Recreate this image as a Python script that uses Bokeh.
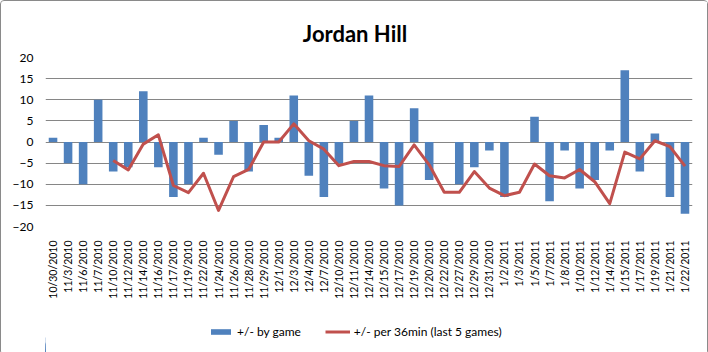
import math
from bokeh.plotting import figure
from bokeh.layouts import column
from bokeh.models import (FactorRange, Range1d, FixedTicker, Legend, LegendItem, Label,
                          ColumnDataSource)
from bokeh.embed import file_html
from bokeh.resources import INLINE

dates = ["10/30/2010", "11/3/2010", "11/6/2010", "11/7/2010", "11/10/2010", "11/12/2010",
         "11/14/2010", "11/16/2010", "11/17/2010", "11/19/2010", "11/22/2010", "11/24/2010",
         "11/26/2010", "11/28/2010", "11/29/2010", "12/1/2010", "12/3/2010", "12/4/2010",
         "12/7/2010", "12/10/2010", "12/11/2010", "12/14/2010", "12/15/2010", "12/17/2010",
         "12/19/2010", "12/20/2010", "12/22/2010", "12/27/2010", "12/29/2010", "12/31/2010",
         "1/2/2011", "1/3/2011", "1/5/2011", "1/7/2011", "1/8/2011", "1/10/2011",
         "1/12/2011", "1/14/2011", "1/15/2011", "1/17/2011", "1/19/2011", "1/21/2011",
         "1/22/2011"]

by_game = [1, -5, -10, 10, -7, -6, 12, -6, -13, -10, 1, -3,
           5, -7, 4, 1, 11, -8, -13, -5, 5, 11, -11, -15,
           8, -9, 0, -10, -6, -2, -13, 0, 6, -14, -2, -11,
           -9, -2, 17, -7, 2, -13, -17]

line_dates = dates[4:]
per36_last5 = [-4.4, -6.6, -0.5, 1.7, -10.3, -12.0, -7.4, -16.2, -8.2, -6.5,
               0.0, 0.0, 4.3, 0.3, -1.7, -5.6, -4.6, -4.6, -5.6, -5.8,
               -0.7, -5.4, -11.9, -11.9, -7.0, -10.9, -12.7, -11.9, -5.2, -8.0,
               -8.5, -6.5, -9.4, -14.6, -2.4, -4.0, 0.3, -1.1, -5.7]

y_ticks = [-20, -15, -10, -5, 0, 5, 10, 15, 20]

title_text = "Jordan Hill"
series_names = ["+/- by game", "+/- per 36min (last 5 games)"]
BAR_COLOR = "#4F81BD"
LINE_COLOR = "#C0504D"
FONT = "Lato"

FRAME_W = 647
LEFT, RIGHT = 44, 15

# ---- title strip ----
p0 = figure(frame_width=FRAME_W, frame_height=48, output_backend="svg", toolbar_location=None,
            x_axis_location=None, y_axis_location=None,
            x_range=Range1d(LEFT, LEFT + FRAME_W), y_range=Range1d(0, 48),
            min_border_left=LEFT, min_border_right=RIGHT, min_border_top=0, min_border_bottom=0)
p0.outline_line_color = None
p0.grid.grid_line_color = None
p0.background_fill_color = "white"
p0.border_fill_color = "white"
p0.add_layout(Label(x=353.5, y=16, text=title_text, text_align="center",
                    text_baseline="alphabetic", text_font=FONT, text_font_size="22px",
                    text_font_style="bold", text_color="black"))

# ---- main chart ----
p = figure(frame_width=FRAME_W, frame_height=169, output_backend="svg", toolbar_location=None,
           x_range=FactorRange(factors=dates, range_padding=0),
           y_range=Range1d(-20, 20),
           min_border_left=LEFT, min_border_right=RIGHT, min_border_top=8, min_border_bottom=0)
p.outline_line_color = None
p.background_fill_color = "white"
p.border_fill_color = "white"

src_bar = ColumnDataSource(dict(x=dates, y=by_game))
p.vbar(x="x", top="y", bottom=0, width=0.57, source=src_bar,
       fill_color=BAR_COLOR, line_color=None)
src_line = ColumnDataSource(dict(x=line_dates, y=per36_last5))
p.line(x="x", y="y", source=src_line, line_color=LINE_COLOR, line_width=3, line_join="round")

p.xgrid.grid_line_color = None
p.ygrid.grid_line_color = "#868686"
p.ygrid.grid_line_width = 1

p.yaxis.ticker = FixedTicker(ticks=y_ticks)
p.yaxis.axis_line_color = None
p.yaxis.major_tick_line_color = None
p.yaxis.minor_tick_line_color = None
p.yaxis.major_tick_out = 0
p.yaxis.major_tick_in = 0
p.yaxis.major_label_standoff = 12
p.yaxis.major_label_text_font = FONT
p.yaxis.major_label_text_font_size = "12px"
p.yaxis.major_label_text_color = "black"

p.xaxis.axis_line_color = None
p.xaxis.major_tick_line_color = None
p.xaxis.minor_tick_line_color = None
p.xaxis.major_tick_out = 0
p.xaxis.major_tick_in = 0
p.xaxis.major_label_standoff = 14
p.xaxis.major_label_orientation = math.pi / 2
p.xaxis.major_label_text_font = FONT
p.xaxis.major_label_text_font_size = "10.5px"
p.xaxis.major_label_text_color = "black"

# ---- legend strip (proxy renderers drawn outside the visible range) ----
p2 = figure(frame_width=FRAME_W, frame_height=53, output_backend="svg", toolbar_location=None,
            x_axis_location=None, y_axis_location=None,
            x_range=Range1d(1000, 1000 + FRAME_W), y_range=Range1d(0, 53),
            min_border_left=LEFT, min_border_right=RIGHT, min_border_top=0, min_border_bottom=0)
p2.outline_line_color = None
p2.grid.grid_line_color = None
p2.background_fill_color = "white"
p2.border_fill_color = "white"
idx = list(range(len(by_game)))
r_bar = p2.vbar(x=idx, top=by_game, width=0.57, fill_color=BAR_COLOR, line_color=None)
r_line = p2.line(x=idx[4:], y=per36_last5, line_color=LINE_COLOR, line_width=3)

legend = Legend(items=[LegendItem(label=series_names[0], renderers=[r_bar]),
                       LegendItem(label=series_names[1], renderers=[r_line])],
                location=(163, 15), orientation="horizontal",
                label_text_font=FONT, label_text_font_size="12px", label_text_color="black",
                glyph_width=25, glyph_height=7, label_standoff=4, spacing=24,
                label_height=14, padding=0, margin=0, border_line_color=None,
                background_fill_alpha=0)
p2.add_layout(legend, "center")

layout = column(p0, p, p2, spacing=0)
layout.styles = {"border": "1px solid #8a8a8a", "border-radius": "4px"}

open("out.html", "w").write(file_html(layout, INLINE))
